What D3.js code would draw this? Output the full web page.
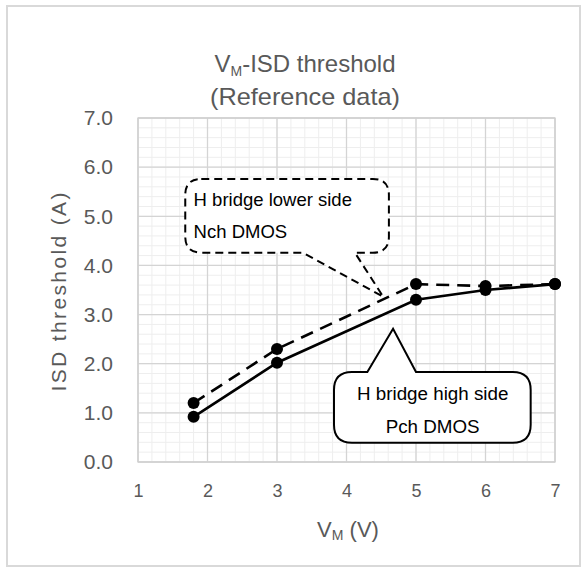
<!DOCTYPE html>
<html>
<head>
<meta charset="utf-8">
<script src="https://cdn.jsdelivr.net/npm/d3@7"></script>
<style>
  html, body { margin: 0; padding: 0; background: #fff; }
  svg { display: block; font-family: "Liberation Sans", Arial, sans-serif; }
</style>
</head>
<body>
<svg id="chart" width="584" height="573"></svg>
<script>
// ---- data ----
const vmValues = [1.8, 3, 5, 6, 7];
const highSidePch = [0.92, 2.02, 3.3, 3.5, 3.62];   // solid line
const lowerSideNch = [1.2, 2.3, 3.62, 3.58, 3.62];  // dashed line
const xTicks = [1, 2, 3, 4, 5, 6, 7];
const yTicks = [0, 1, 2, 3, 4, 5, 6, 7];
const titleLines = ["ISD threshold", "(Reference data)"];
const calloutNch = ["H bridge lower side", "Nch DMOS"];
const calloutPch = ["H bridge high side", "Pch DMOS"];

// ---- layout ----
const svg = d3.select("#chart");
const plot = { left: 138, right: 555, top: 118, bottom: 462 };
const x = d3.scaleLinear().domain([1, 7]).range([plot.left, plot.right]);
const y = d3.scaleLinear().domain([0, 7]).range([plot.bottom, plot.top]);

// outer frame
svg.append("rect").attr("x", 7).attr("y", 6).attr("width", 573).attr("height", 560)
  .attr("fill", "#fff").attr("stroke", "#d9d9d9").attr("stroke-width", 2);

// minor grid
const minorX = d3.range(1, 7.0001, 0.2);
const minorY = d3.range(0, 7.0001, 0.2);
const g = svg.append("g");
g.selectAll("line.mx").data(minorX).join("line")
  .attr("x1", d => x(d)).attr("x2", d => x(d))
  .attr("y1", plot.top).attr("y2", plot.bottom)
  .attr("stroke", "#eeeeee").attr("stroke-width", 1);
g.selectAll("line.my").data(minorY).join("line")
  .attr("y1", d => y(d)).attr("y2", d => y(d))
  .attr("x1", plot.left).attr("x2", plot.right)
  .attr("stroke", "#eeeeee").attr("stroke-width", 1);
// major grid
g.selectAll("line.Mx").data(xTicks).join("line")
  .attr("x1", d => x(d)).attr("x2", d => x(d))
  .attr("y1", plot.top).attr("y2", plot.bottom)
  .attr("stroke", "#d4d4d4").attr("stroke-width", 1.3);
g.selectAll("line.My").data(yTicks).join("line")
  .attr("y1", d => y(d)).attr("y2", d => y(d))
  .attr("x1", plot.left).attr("x2", plot.right)
  .attr("stroke", "#d4d4d4").attr("stroke-width", 1.3);
svg.append("rect").attr("x", plot.left).attr("y", plot.top)
  .attr("width", plot.right - plot.left).attr("height", plot.bottom - plot.top)
  .attr("fill", "none").attr("stroke", "#d0d0d0").attr("stroke-width", 1.3);

// axes (labels only)
const yAxis = d3.axisLeft(y).tickValues(yTicks).tickFormat(d3.format(".1f")).tickSize(0).tickPadding(25);
const ya = svg.append("g").attr("transform", `translate(${plot.left},0)`).call(yAxis);
ya.select(".domain").remove();
ya.selectAll("text").attr("fill", "#595959").attr("font-size", 21)
  .attr("font-family", "'Liberation Sans', Arial, sans-serif");

const xAxis = d3.axisBottom(x).tickValues(xTicks).tickFormat(d3.format("d")).tickSize(0).tickPadding(22);
const xa = svg.append("g").attr("transform", `translate(0,${plot.bottom})`).call(xAxis);
xa.select(".domain").remove();
xa.selectAll("text").attr("fill", "#595959").attr("font-size", 18)
  .attr("font-family", "'Liberation Sans Narrow', 'Arial Narrow', 'Liberation Sans', sans-serif");

// title
const t1 = svg.append("text").attr("x", 305).attr("y", 72).attr("text-anchor", "middle")
  .attr("fill", "#595959").attr("font-size", 24);
t1.append("tspan").text("V");
t1.append("tspan").attr("font-size", 14).attr("dy", 4).text("M");
t1.append("tspan").attr("dy", -4).text("-" + titleLines[0]);
svg.append("text").attr("x", 305).attr("y", 105).attr("text-anchor", "middle")
  .attr("fill", "#595959").attr("font-size", 24).attr("textLength", 190).attr("lengthAdjust", "spacingAndGlyphs")
  .text(titleLines[1]);

// axis titles
svg.append("text").attr("transform", "translate(66,292) rotate(-90)")
  .attr("text-anchor", "middle").attr("fill", "#595959").attr("font-size", 21)
  .attr("textLength", 199).attr("lengthAdjust", "spacing")
  .text("ISD threshold (A)");
const xt = svg.append("text").attr("x", 348).attr("y", 537).attr("text-anchor", "middle")
  .attr("fill", "#595959").attr("font-size", 22);
xt.append("tspan").text("V");
xt.append("tspan").attr("font-size", 14).attr("dy", 3).text("M");
xt.append("tspan").attr("dy", -3).text(" (V)");

// series
const line = d3.line().x(d => x(d[0])).y(d => y(d[1]));
const ptsN = vmValues.map((v, i) => [v, lowerSideNch[i]]);
const ptsP = vmValues.map((v, i) => [v, highSidePch[i]]);
svg.append("path").datum(ptsN).attr("d", line).attr("fill", "none")
  .attr("stroke", "#000").attr("stroke-width", 2.6).attr("stroke-dasharray", "13,8");
svg.append("path").datum(ptsP).attr("d", line).attr("fill", "none")
  .attr("stroke", "#000").attr("stroke-width", 2.6);
svg.selectAll("circle.n").data(ptsN).join("circle")
  .attr("cx", d => x(d[0])).attr("cy", d => y(d[1])).attr("r", 6).attr("fill", "#000");
svg.selectAll("circle.p").data(ptsP).join("circle")
  .attr("cx", d => x(d[0])).attr("cy", d => y(d[1])).attr("r", 6).attr("fill", "#000");

// callout helper: rounded box with a pointer on bottom or top edge
function callout(x0, y0, x1, y1, r, b0, b1, tx, ty, onTop) {
  const p = d3.path();
  p.moveTo(x0 + r, y0);
  if (onTop) { p.lineTo(b0, y0); p.lineTo(tx, ty); p.lineTo(b1, y0); }
  p.lineTo(x1 - r, y0);
  p.quadraticCurveTo(x1, y0, x1, y0 + r);
  p.lineTo(x1, y1 - r);
  p.quadraticCurveTo(x1, y1, x1 - r, y1);
  if (!onTop) { p.lineTo(b1, y1); p.lineTo(tx, ty); p.lineTo(b0, y1); }
  p.lineTo(x0 + r, y1);
  p.quadraticCurveTo(x0, y1, x0, y1 - r);
  p.lineTo(x0, y0 + r);
  p.quadraticCurveTo(x0, y0, x0 + r, y0);
  p.closePath();
  return p.toString();
}

// Nch callout (dashed), positioned in data units
svg.append("path")
  .attr("d", callout(x(1.68), y(5.76), x(4.61), y(4.26), 16, x(3.37), x(4.12), x(4.53), y(3.36), false))
  .attr("fill", "#fff").attr("stroke", "#000").attr("stroke-width", 2)
  .attr("stroke-dasharray", "8,5");
svg.append("text").attr("x", x(1.8)).attr("y", y(5.2)).attr("font-size", 18.5).attr("fill", "#000").text(calloutNch[0]);
svg.append("text").attr("x", x(1.8)).attr("y", y(4.55)).attr("font-size", 18.5).attr("fill", "#000").text(calloutNch[1]);

// Pch callout (solid)
svg.append("path")
  .attr("d", callout(x(3.82), y(1.83), x(6.65), y(0.39), 18, x(4.3), x(5.0), x(4.67), y(2.71), true))
  .attr("fill", "#fff").attr("stroke", "#000").attr("stroke-width", 2);
svg.append("text").attr("x", x(5.24)).attr("y", y(1.26)).attr("text-anchor", "middle")
  .attr("font-size", 18.8).attr("fill", "#000").text(calloutPch[0]);
svg.append("text").attr("x", x(5.24)).attr("y", y(0.59)).attr("text-anchor", "middle")
  .attr("font-size", 18.8).attr("fill", "#000").text(calloutPch[1]);
</script>
</body>
</html>
